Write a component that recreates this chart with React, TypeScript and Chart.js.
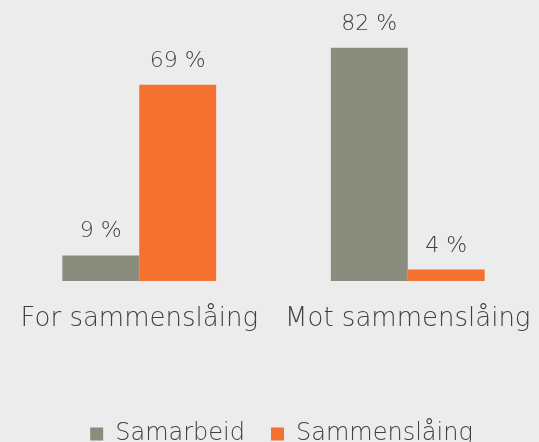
import React, { useEffect, useRef } from "react";
import { Chart, registerables } from "chart.js";

Chart.register(...registerables);

const categories = ["For sammenslåing", "Mot sammenslåing"];
const seriesNames = ["Samarbeid", "Sammenslåing"];
const samarbeid = [9, 82];
const sammenslaing = [69, 4];
const colors = ["#8a8c7d", "#f57130"];

const FONT = "'DejaVu Sans', sans-serif";
const TEXT = "#404040";

const labelPlugin = {
  id: "valueLabels",
  afterDatasetsDraw(chart: any) {
    const ctx = chart.ctx;
    ctx.save();
    ctx.font = `200 22px ${FONT}`;
    ctx.fillStyle = TEXT;
    ctx.textAlign = "center";
    ctx.textBaseline = "alphabetic";
    chart.data.datasets.forEach((ds: any, di: number) => {
      const meta = chart.getDatasetMeta(di);
      meta.data.forEach((el: any, i: number) => {
        ctx.fillText(`${ds.data[i]} %`, el.x, el.y - 18);
      });
    });
    ctx.restore();
  },
};

const legendShift = {
  id: "legendShift",
  afterLayout(chart: any) {
    if (chart.legend) {
      chart.legend.left += 8;
      chart.legend.right += 8;
    }
  },
};

export default function App() {
  const ref = useRef<HTMLCanvasElement>(null);
  useEffect(() => {
    document.body.style.margin = "0";
    document.body.style.background = "#ececec";
    const chart = new Chart(ref.current!, {
      type: "bar",
      data: {
        labels: categories,
        datasets: [
          { label: seriesNames[0], data: samarbeid, backgroundColor: colors[0] },
          { label: seriesNames[1], data: sammenslaing, backgroundColor: colors[1] },
        ],
      },
      options: {
        animation: false,
        responsive: false,
        maintainAspectRatio: false,
        layout: { padding: { left: 5, top: 25, right: 0, bottom: 0 } },
        datasets: { bar: { categoryPercentage: 0.573, barPercentage: 1 } },
        scales: {
          x: {
            grid: { display: false, drawTicks: false },
            border: { display: false },
            ticks: { color: TEXT, font: { family: FONT, size: 26, weight: "200" }, padding: 23 },
            afterFit(scale: any) {
              scale.height = 115;
              scale.paddingLeft = 0;
              scale.paddingRight = 0;
            },
          },
          y: {
            display: false,
            min: 0,
            max: 90,
          },
        },
        plugins: {
          legend: {
            position: "bottom",
            labels: {
              color: TEXT,
              font: { family: FONT, size: 24, weight: "200" },
              boxWidth: 13,
              boxHeight: 13,
              padding: 26,
            },
          },
          tooltip: { enabled: false },
        },
      },
      plugins: [labelPlugin, legendShift],
    });
    return () => chart.destroy();
  }, []);
  return (
    <div style={{ width: 539, height: 442, overflow: "hidden", background: "#ececec", position: "relative" }}>
      <canvas ref={ref} width={542} height={456} style={{ display: "block" }} />
    </div>
  );
}
